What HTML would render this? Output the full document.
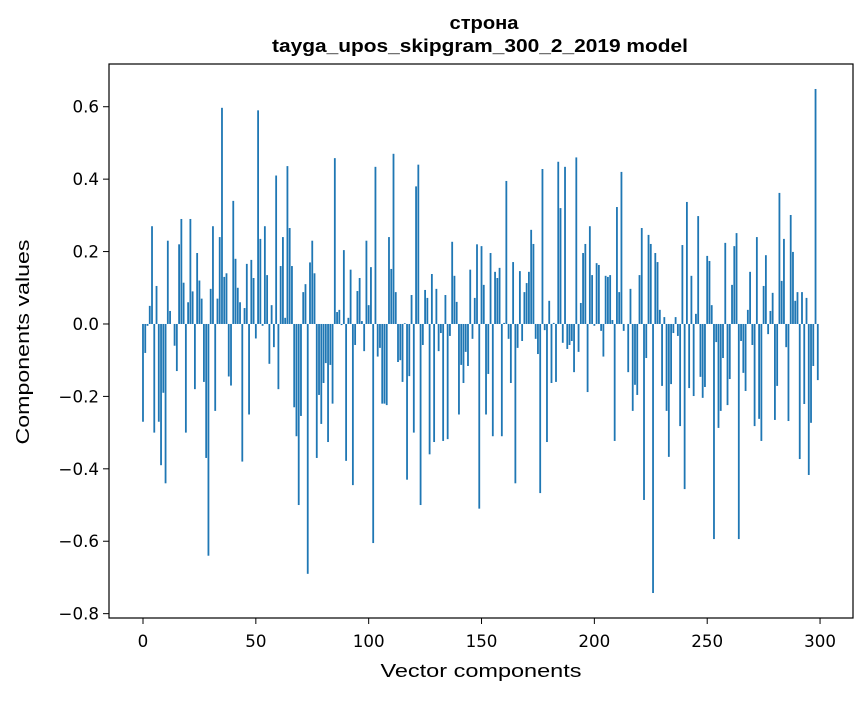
<!DOCTYPE html>
<html><head><meta charset="utf-8"><style>
html,body{margin:0;padding:0;background:#fff;}
svg text{font-family:"DejaVu Sans","Liberation Sans",sans-serif;fill:#000;}
svg text.lib{font-family:"Liberation Sans","DejaVu Sans",sans-serif;}
</style></head><body>
<svg id="chart" width="867" height="696" viewBox="0 0 867 696" xmlns="http://www.w3.org/2000/svg">
<rect x="0" y="0" width="867" height="696" fill="#fff"/>
<text class="lib" x="484" y="29" font-size="18" font-weight="bold" text-anchor="middle" textLength="69" lengthAdjust="spacingAndGlyphs">строна</text>
<text class="lib" x="480" y="52" font-size="18" font-weight="bold" text-anchor="middle" textLength="416" lengthAdjust="spacingAndGlyphs">tayga_upos_skipgram_300_2_2019 model</text>
<g id="bars"></g>
<g id="xticks"></g>
<g id="yticks"></g>
<rect x="109" y="64" width="744" height="554" fill="none" stroke="#000" stroke-width="1.2"/>
<text class="lib" x="481" y="677" font-size="18" text-anchor="middle" textLength="201" lengthAdjust="spacingAndGlyphs">Vector components</text>
<text class="lib" transform="translate(29,342) rotate(-90)" font-size="18" text-anchor="middle" textLength="205" lengthAdjust="spacingAndGlyphs">Components values</text>
</svg>
<script>
const values = [
-0.27,-0.08,-0.005,0.05,0.27,-0.30,0.105,-0.27,-0.39,-0.19,
-0.44,0.23,0.036,0.0,-0.06,-0.13,0.22,0.29,0.114,-0.30,
0.06,0.29,0.09,-0.18,0.196,0.12,0.07,-0.16,-0.37,-0.64,
0.097,0.27,-0.24,0.07,0.24,0.597,0.13,0.14,-0.145,-0.17,
0.34,0.18,0.10,0.06,-0.38,0.044,0.166,-0.25,0.177,0.127,
-0.04,0.59,0.235,-0.005,0.27,0.135,-0.11,0.052,-0.064,0.41,
-0.18,0.16,0.24,0.017,0.436,0.265,0.16,-0.23,-0.31,-0.50,
-0.254,0.088,0.11,-0.69,0.17,0.23,0.14,-0.37,-0.196,-0.276,
-0.163,-0.108,-0.326,-0.113,-0.22,0.458,0.033,0.039,-0.003,0.204,
-0.378,0.017,0.15,-0.445,-0.058,0.091,0.127,0.008,-0.075,0.23,
0.052,0.157,-0.605,0.434,-0.09,-0.066,-0.22,-0.22,-0.224,0.24,
0.152,0.47,0.088,-0.105,-0.10,-0.16,0.002,-0.43,-0.144,0.08,
-0.30,0.38,0.44,-0.50,-0.058,0.094,0.072,-0.36,0.138,-0.326,
0.097,-0.075,-0.025,-0.323,0.08,-0.318,-0.033,0.227,0.133,0.061,
-0.25,-0.113,-0.163,-0.077,-0.116,0.15,-0.041,0.072,0.22,-0.51,
0.215,0.108,-0.25,-0.138,0.196,-0.31,0.144,0.127,0.155,-0.31,
0.003,0.395,-0.041,-0.163,0.171,-0.44,-0.066,0.146,-0.047,0.088,
0.113,0.144,0.26,0.221,-0.041,-0.083,-0.467,0.428,-0.017,-0.326,
0.064,-0.163,0.003,-0.16,0.448,0.32,-0.052,0.434,-0.069,-0.058,
-0.047,-0.133,0.46,-0.077,0.058,0.196,0.221,-0.188,0.27,0.135,
-0.005,0.168,0.163,-0.019,-0.09,0.133,0.13,0.135,0.011,-0.323,
0.323,0.088,0.42,-0.019,0.0,-0.133,0.097,-0.24,-0.168,-0.196,
0.135,0.265,-0.486,-0.094,0.246,0.221,-0.743,0.196,0.171,0.039,
-0.171,0.019,-0.24,-0.367,-0.166,-0.025,0.019,-0.033,-0.282,0.218,
-0.456,0.337,-0.177,0.133,-0.199,0.028,0.298,-0.146,-0.204,-0.174,
0.188,0.174,0.052,-0.594,-0.05,-0.287,-0.24,-0.094,0.224,-0.224,
-0.152,0.108,0.215,0.251,-0.594,-0.047,-0.135,-0.185,0.039,0.144,
-0.058,-0.282,0.24,-0.262,-0.323,0.105,0.19,-0.028,0.036,0.086,
-0.265,-0.171,0.362,0.119,0.235,-0.064,-0.268,0.301,0.199,0.064,
0.088,-0.373,0.088,-0.221,0.072,-0.417,-0.273,-0.116,0.649,-0.155
];
const xTickValues = [0,50,100,150,200,250,300];
const yTickValues = [0.6,0.4,0.2,0.0,-0.2,-0.4,-0.6,-0.8];
const yTickLabels = ["0.6","0.4","0.2","0.0","\u22120.2","\u22120.4","\u22120.6","\u22120.8"];

const NS = "http://www.w3.org/2000/svg";
const L = 109, R = 853, T = 64, B = 618;
const xMin = -15.06, xMax = 314.6, yMin = -0.812, yMax = 0.718;
function xs(v){ return L + (v - xMin) / (xMax - xMin) * (R - L); }
function ys(v){ return T + (yMax - v) / (yMax - yMin) * (B - T); }

const gb = document.getElementById('bars');
values.forEach(function(v, i){
  const r = document.createElementNS(NS, 'rect');
  const x0 = xs(i - 0.4), x1 = xs(i + 0.4);
  const y0 = ys(Math.max(v, 0)), y1 = ys(Math.min(v, 0));
  r.setAttribute('x', x0);
  r.setAttribute('width', x1 - x0);
  r.setAttribute('y', y0);
  r.setAttribute('height', Math.max(y1 - y0, 0));
  r.setAttribute('fill', '#1f77b4');
  
  
  gb.appendChild(r);
});

const gx = document.getElementById('xticks');
xTickValues.forEach(function(v){
  const x = xs(v);
  const ln = document.createElementNS(NS, 'line');
  ln.setAttribute('x1', x); ln.setAttribute('x2', x);
  ln.setAttribute('y1', B); ln.setAttribute('y2', B + 6);
  ln.setAttribute('stroke', '#000'); ln.setAttribute('stroke-width', '1');
  
  
  gx.appendChild(ln);
  const t = document.createElementNS(NS, 'text');
  t.setAttribute('x', x); t.setAttribute('y', 647);
  t.setAttribute('font-size', '16.7');
  t.setAttribute('text-anchor', 'middle');
  t.textContent = String(v);
  
  
  gx.appendChild(t);
});

const gy = document.getElementById('yticks');
yTickValues.forEach(function(v, i){
  const y = ys(v);
  const ln = document.createElementNS(NS, 'line');
  ln.setAttribute('x1', L - 6); ln.setAttribute('x2', L);
  ln.setAttribute('y1', y); ln.setAttribute('y2', y);
  ln.setAttribute('stroke', '#000'); ln.setAttribute('stroke-width', '1');
  
  
  gy.appendChild(ln);
  const t = document.createElementNS(NS, 'text');
  t.setAttribute('x', L - 10); t.setAttribute('y', y + 6);
  t.setAttribute('font-size', '16.7');
  t.setAttribute('text-anchor', 'end');
  t.textContent = yTickLabels[i];
  
  
  gy.appendChild(t);
});
</script>
</body></html>
